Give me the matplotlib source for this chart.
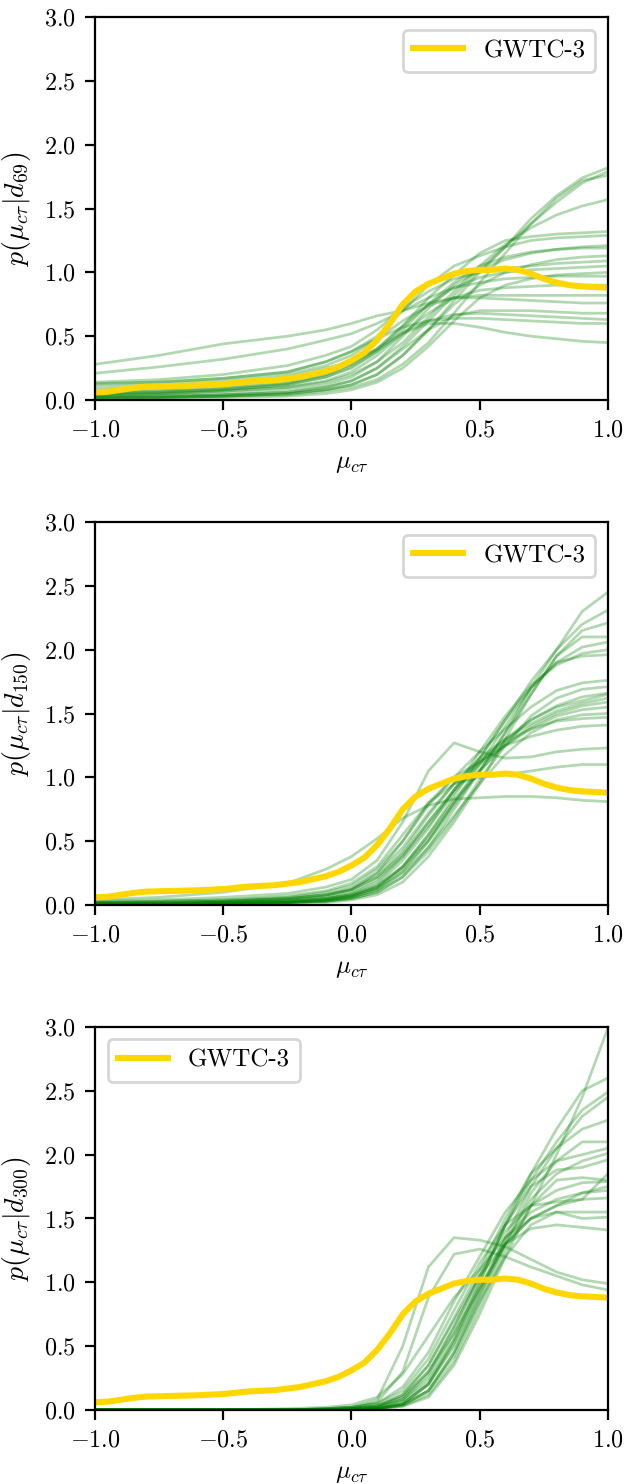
import numpy as np
import matplotlib
matplotlib.use("Agg")
import matplotlib.pyplot as plt

plt.rcParams["font.family"] = "serif"
plt.rcParams["font.serif"] = ["cmr10", "DejaVu Serif"]
plt.rcParams["mathtext.fontset"] = "cm"
plt.rcParams["axes.unicode_minus"] = False
plt.rcParams["axes.formatter.use_mathtext"] = True
plt.rcParams["font.size"] = 9
plt.rcParams["legend.fontsize"] = 9

# GWTC-3 reference curve
x_gwtc = [-1.0, -0.95, -0.9, -0.85, -0.8, -0.7, -0.6, -0.5, -0.4, -0.3, -0.2, -0.1,
          -0.05, 0.0, 0.05, 0.1, 0.15, 0.2, 0.25, 0.3, 0.35, 0.4, 0.45, 0.5, 0.55,
          0.6, 0.65, 0.7, 0.75, 0.8, 0.85, 0.9, 0.95, 1.0]
p_gwtc = [0.06, 0.065, 0.08, 0.095, 0.105, 0.11, 0.115, 0.125, 0.145, 0.155, 0.18, 0.225,
          0.26, 0.31, 0.37, 0.47, 0.6, 0.75, 0.85, 0.91, 0.95, 0.99, 1.01, 1.02, 1.02,
          1.03, 1.02, 0.99, 0.95, 0.92, 0.90, 0.89, 0.885, 0.88]

# nodes for the simulated catalogue curves
x_sim = [-1.0, -0.75, -0.5, -0.25, -0.1, 0.0, 0.1, 0.2, 0.3, 0.4, 0.5, 0.6, 0.7, 0.8, 0.9, 1.0]

p_d69 = [
    [0.02, 0.02, 0.03, 0.05, 0.08, 0.12, 0.2, 0.35, 0.55, 0.78, 1.0, 1.2, 1.42, 1.6, 1.74, 1.82],
    [0.03, 0.03, 0.04, 0.06, 0.1, 0.15, 0.25, 0.42, 0.62, 0.82, 1.02, 1.2, 1.38, 1.55, 1.7, 1.79],
    [0.01, 0.02, 0.03, 0.04, 0.07, 0.1, 0.16, 0.28, 0.45, 0.68, 0.92, 1.15, 1.38, 1.58, 1.72, 1.76],
    [0.04, 0.05, 0.07, 0.1, 0.14, 0.2, 0.3, 0.45, 0.65, 0.85, 1.05, 1.22, 1.35, 1.45, 1.52, 1.57],
    [0.08, 0.1, 0.13, 0.18, 0.25, 0.3, 0.4, 0.58, 0.8, 0.98, 1.15, 1.25, 1.28, 1.3, 1.31, 1.32],
    [0.12, 0.14, 0.17, 0.22, 0.3, 0.38, 0.5, 0.7, 0.9, 1.05, 1.13, 1.2, 1.25, 1.27, 1.28, 1.29],
    [0.03, 0.04, 0.05, 0.08, 0.12, 0.18, 0.3, 0.5, 0.72, 0.9, 1.02, 1.1, 1.15, 1.18, 1.2, 1.21],
    [0.05, 0.06, 0.08, 0.12, 0.18, 0.26, 0.38, 0.55, 0.75, 0.92, 1.05, 1.12, 1.16, 1.18, 1.19, 1.19],
    [0.02, 0.02, 0.03, 0.05, 0.08, 0.12, 0.2, 0.35, 0.55, 0.75, 0.9, 1.0, 1.06, 1.1, 1.12, 1.13],
    [0.14, 0.16, 0.2, 0.27, 0.35, 0.42, 0.55, 0.72, 0.85, 0.95, 1.0, 1.03, 1.05, 1.07, 1.08, 1.09],
    [0.06, 0.07, 0.09, 0.13, 0.2, 0.28, 0.4, 0.58, 0.75, 0.88, 0.96, 1.0, 1.02, 1.03, 1.04, 1.05],
    [0.01, 0.01, 0.02, 0.03, 0.05, 0.08, 0.14, 0.25, 0.42, 0.62, 0.8, 0.9, 0.95, 0.98, 0.99, 1.0],
    [0.21, 0.26, 0.32, 0.4, 0.47, 0.52, 0.6, 0.7, 0.8, 0.88, 0.92, 0.95, 0.96, 0.97, 0.97, 0.97],
    [0.04, 0.05, 0.07, 0.1, 0.15, 0.22, 0.35, 0.52, 0.68, 0.8, 0.86, 0.88, 0.89, 0.9, 0.9, 0.9],
    [0.1, 0.12, 0.15, 0.2, 0.27, 0.35, 0.48, 0.62, 0.74, 0.8, 0.82, 0.82, 0.82, 0.82, 0.82, 0.82],
    [0.28, 0.35, 0.44, 0.5, 0.55, 0.6, 0.66, 0.7, 0.76, 0.8, 0.8, 0.79, 0.78, 0.77, 0.76, 0.76],
    [0.02, 0.03, 0.04, 0.06, 0.1, 0.15, 0.25, 0.4, 0.55, 0.66, 0.7, 0.7, 0.7, 0.69, 0.68, 0.68],
    [0.07, 0.08, 0.1, 0.14, 0.2, 0.28, 0.4, 0.53, 0.62, 0.67, 0.68, 0.67, 0.66, 0.65, 0.64, 0.63],
    [0.13, 0.14, 0.17, 0.22, 0.3, 0.38, 0.48, 0.57, 0.62, 0.64, 0.64, 0.63, 0.62, 0.61, 0.6, 0.6],
    [0.05, 0.06, 0.08, 0.12, 0.18, 0.25, 0.38, 0.52, 0.6, 0.6, 0.57, 0.53, 0.5, 0.48, 0.46, 0.45],
]

p_d150 = [
    [0.0, 0.0, 0.01, 0.02, 0.03, 0.05, 0.1, 0.22, 0.45, 0.75, 1.05, 1.35, 1.7, 2.0, 2.3, 2.45],
    [0.0, 0.0, 0.01, 0.02, 0.04, 0.07, 0.14, 0.3, 0.55, 0.85, 1.15, 1.45, 1.75, 2.0, 2.2, 2.31],
    [0.01, 0.01, 0.02, 0.03, 0.05, 0.08, 0.15, 0.3, 0.52, 0.8, 1.05, 1.35, 1.65, 1.95, 2.15, 2.21],
    [0.0, 0.0, 0.0, 0.01, 0.02, 0.04, 0.08, 0.18, 0.38, 0.65, 0.95, 1.3, 1.65, 1.95, 2.1, 2.1],
    [0.02, 0.02, 0.03, 0.05, 0.08, 0.12, 0.22, 0.4, 0.65, 0.9, 1.15, 1.45, 1.7, 1.9, 2.02, 2.06],
    [0.01, 0.01, 0.02, 0.03, 0.05, 0.08, 0.16, 0.35, 0.6, 0.9, 1.2, 1.48, 1.72, 1.88, 1.97, 2.0],
    [0.0, 0.0, 0.01, 0.02, 0.03, 0.06, 0.12, 0.26, 0.5, 0.8, 1.1, 1.4, 1.7, 1.9, 1.95, 1.96],
    [0.02, 0.03, 0.04, 0.06, 0.1, 0.15, 0.28, 0.5, 0.78, 1.0, 1.2, 1.38, 1.55, 1.68, 1.74, 1.76],
    [0.0, 0.0, 0.01, 0.02, 0.03, 0.05, 0.1, 0.22, 0.42, 0.68, 0.98, 1.25, 1.48, 1.62, 1.69, 1.71],
    [0.01, 0.01, 0.02, 0.04, 0.06, 0.1, 0.2, 0.38, 0.62, 0.88, 1.12, 1.3, 1.45, 1.56, 1.63, 1.66],
    [0.0, 0.01, 0.01, 0.02, 0.04, 0.07, 0.13, 0.28, 0.5, 0.78, 1.05, 1.28, 1.45, 1.55, 1.6, 1.65],
    [0.01, 0.02, 0.03, 0.05, 0.08, 0.13, 0.25, 0.45, 0.72, 0.95, 1.15, 1.3, 1.42, 1.52, 1.58, 1.62],
    [0.0, 0.0, 0.01, 0.02, 0.04, 0.07, 0.14, 0.3, 0.55, 0.82, 1.05, 1.25, 1.4, 1.5, 1.56, 1.59],
    [0.02, 0.02, 0.03, 0.05, 0.08, 0.12, 0.25, 0.5, 0.8, 1.0, 1.12, 1.25, 1.38, 1.48, 1.53, 1.55],
    [0.0, 0.0, 0.01, 0.02, 0.03, 0.06, 0.12, 0.25, 0.45, 0.7, 0.95, 1.18, 1.35, 1.45, 1.49, 1.5],
    [0.01, 0.01, 0.02, 0.04, 0.07, 0.12, 0.22, 0.42, 0.7, 0.95, 1.12, 1.28, 1.38, 1.44, 1.46, 1.47],
    [0.0, 0.01, 0.02, 0.03, 0.05, 0.09, 0.18, 0.38, 0.65, 0.9, 1.1, 1.25, 1.32, 1.37, 1.4, 1.41],
    [0.03, 0.04, 0.06, 0.09, 0.14, 0.2, 0.35, 0.65, 1.05, 1.27, 1.2, 1.15, 1.16, 1.2, 1.22, 1.23],
    [0.02, 0.03, 0.04, 0.07, 0.11, 0.17, 0.3, 0.55, 0.8, 0.95, 1.0, 1.02, 1.05, 1.08, 1.1, 1.1],
    [0.04, 0.06, 0.1, 0.17, 0.28, 0.38, 0.52, 0.68, 0.78, 0.83, 0.84, 0.85, 0.85, 0.84, 0.82, 0.81],
]

p_d300 = [
    [0.0, 0.0, 0.0, 0.0, 0.0, 0.0, 0.01, 0.03, 0.1, 0.35, 0.75, 1.2, 1.6, 2.0, 2.45, 2.99],
    [0.0, 0.0, 0.0, 0.0, 0.0, 0.0, 0.01, 0.05, 0.2, 0.55, 1.0, 1.45, 1.85, 2.2, 2.5, 2.6],
    [0.0, 0.0, 0.0, 0.0, 0.0, 0.01, 0.02, 0.08, 0.28, 0.65, 1.05, 1.45, 1.8, 2.1, 2.35, 2.49],
    [0.0, 0.0, 0.0, 0.0, 0.0, 0.0, 0.01, 0.04, 0.15, 0.45, 0.9, 1.35, 1.75, 2.05, 2.3, 2.45],
    [0.0, 0.0, 0.0, 0.0, 0.0, 0.01, 0.03, 0.12, 0.35, 0.72, 1.1, 1.5, 1.85, 2.05, 2.2, 2.27],
    [0.0, 0.0, 0.0, 0.0, 0.0, 0.0, 0.01, 0.05, 0.2, 0.5, 0.9, 1.3, 1.7, 1.95, 2.1, 2.1],
    [0.0, 0.0, 0.0, 0.0, 0.01, 0.02, 0.05, 0.18, 0.45, 0.85, 1.2, 1.55, 1.8, 1.95, 2.0, 2.05],
    [0.0, 0.0, 0.0, 0.0, 0.0, 0.0, 0.01, 0.04, 0.15, 0.42, 0.85, 1.3, 1.65, 1.85, 1.95, 2.01],
    [0.0, 0.0, 0.0, 0.0, 0.0, 0.01, 0.02, 0.08, 0.25, 0.6, 1.0, 1.45, 1.75, 1.88, 1.9, 1.96],
    [0.0, 0.0, 0.0, 0.0, 0.0, 0.0, 0.01, 0.03, 0.12, 0.38, 0.8, 1.25, 1.6, 1.8, 1.82, 1.8],
    [0.0, 0.0, 0.0, 0.0, 0.0, 0.01, 0.03, 0.1, 0.3, 0.65, 1.05, 1.4, 1.6, 1.72, 1.78, 1.79],
    [0.0, 0.0, 0.0, 0.0, 0.0, 0.0, 0.01, 0.05, 0.2, 0.52, 0.95, 1.35, 1.55, 1.65, 1.7, 1.72],
    [0.0, 0.0, 0.0, 0.0, 0.01, 0.02, 0.05, 0.15, 0.4, 0.78, 1.15, 1.45, 1.6, 1.63, 1.65, 1.66],
    [0.0, 0.0, 0.0, 0.0, 0.0, 0.01, 0.02, 0.07, 0.22, 0.55, 0.95, 1.3, 1.5, 1.55, 1.55, 1.55],
    [0.0, 0.0, 0.0, 0.0, 0.0, 0.0, 0.01, 0.04, 0.15, 0.45, 0.85, 1.2, 1.45, 1.55, 1.5, 1.51],
    [0.0, 0.0, 0.0, 0.0, 0.0, 0.01, 0.03, 0.12, 0.35, 0.7, 1.05, 1.3, 1.42, 1.45, 1.43, 1.41],
    [0.0, 0.0, 0.0, 0.0, 0.01, 0.02, 0.08, 0.5, 1.12, 1.35, 1.33, 1.28, 1.18, 1.08, 1.02, 0.99],
    [0.0, 0.0, 0.0, 0.0, 0.01, 0.02, 0.06, 0.3, 0.88, 1.22, 1.26, 1.2, 1.12, 1.05, 0.98, 0.94],
    [0.0, 0.0, 0.0, 0.0, 0.0, 0.01, 0.03, 0.1, 0.3, 0.6, 0.95, 1.3, 1.5, 1.6, 1.65, 1.85],
    [0.0, 0.0, 0.0, 0.01, 0.02, 0.04, 0.1, 0.28, 0.58, 0.88, 1.1, 1.35, 1.5, 1.6, 1.7, 1.75],
]

panels = [
    (p_d69, r"$p(\mu_{c\tau}|d_{69})$", "upper right"),
    (p_d150, r"$p(\mu_{c\tau}|d_{150})$", "upper right"),
    (p_d300, r"$p(\mu_{c\tau}|d_{300})$", "upper left"),
]

fig, axes = plt.subplots(3, 1, figsize=(3.13, 7.42), dpi=200)
fig.subplots_adjust(left=0.152, right=0.971, bottom=0.0499, top=0.9885, hspace=0.3185)

for ax, (curves, ylab, loc) in zip(axes, panels):
    for c in curves:
        ax.plot(x_sim, c, color="green", alpha=0.3, lw=1.0)
    ax.plot(x_gwtc, p_gwtc, color="gold", lw=2.2, label="GWTC-3")
    ax.set_xlim(-1, 1)
    ax.set_ylim(0, 3)
    ax.set_xticks([-1.0, -0.5, 0.0, 0.5, 1.0])
    ax.set_yticks([0.0, 0.5, 1.0, 1.5, 2.0, 2.5, 3.0])
    ax.tick_params(labelsize=8.7)
    ax.set_xlabel(r"$\mu_{c\tau}$", fontsize=9)
    ax.set_ylabel(ylab, fontsize=10)
    ax.legend(loc=loc)

fig.savefig("out.png", dpi=200)
